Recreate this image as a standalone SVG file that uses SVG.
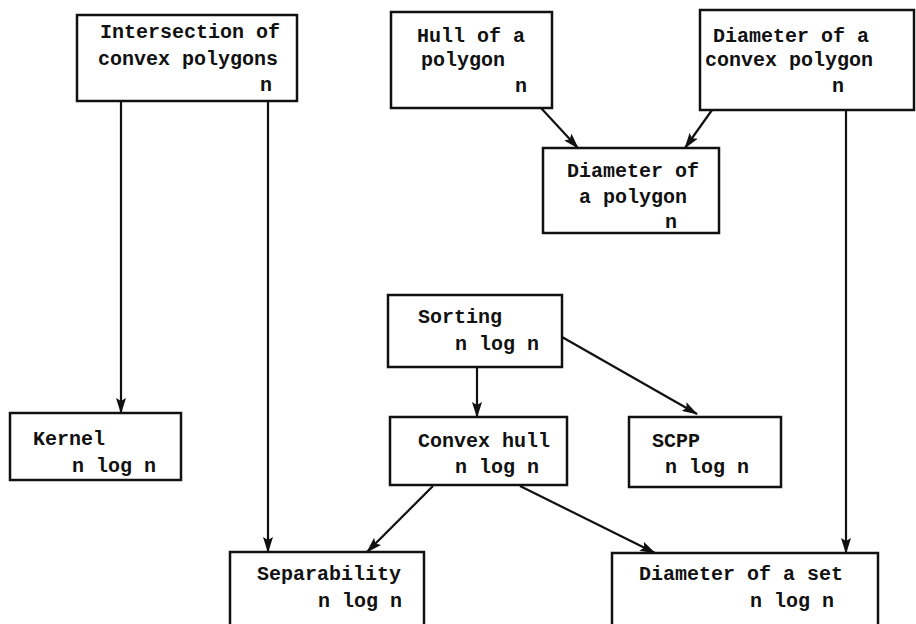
<svg xmlns="http://www.w3.org/2000/svg" width="916" height="624" viewBox="0 0 916 624">
<style>
.box{fill:#fff;stroke:#111;stroke-width:2.5}
.t{font-family:"Liberation Mono","DejaVu Sans Mono",monospace;font-size:20px;font-weight:bold;fill:#111}
.c{stroke:#111;stroke-width:2.2;fill:none;marker-end:url(#ah)}
</style>
<defs>
<marker id="ah" viewBox="0 0 16 10" refX="15" refY="5" markerWidth="16" markerHeight="10" markerUnits="userSpaceOnUse" orient="auto">
<path d="M0,0 L16,5 L0,10 L3,5 Z" fill="#111"/>
</marker>
</defs>
<rect width="916" height="624" fill="#fff"/>
<g id="connectors">
<line class="c" x1="121" y1="101" x2="121" y2="413"/>
<line class="c" x1="268" y1="101" x2="268" y2="552"/>
<line class="c" x1="541" y1="108" x2="578" y2="148"/>
<line class="c" x1="712" y1="110" x2="685" y2="148"/>
<line class="c" x1="846" y1="110" x2="846" y2="553"/>
<line class="c" x1="477" y1="367" x2="477" y2="417"/>
<line class="c" x1="562" y1="337" x2="697" y2="414"/>
<line class="c" x1="433" y1="486" x2="367" y2="552"/>
<line class="c" x1="520" y1="486" x2="655" y2="553"/>
</g>
<g id="intersection">
<rect class="box" x="77" y="15" width="220" height="86"/>
<text class="t" x="100" y="38">Intersection of</text>
<text class="t" x="98" y="65">convex polygons</text>
<text class="t" x="260" y="91">n</text>
</g>
<g id="hull">
<rect class="box" x="391" y="12" width="161" height="96"/>
<text class="t" x="417" y="42">Hull of a</text>
<text class="t" x="421" y="66">polygon</text>
<text class="t" x="515" y="92">n</text>
</g>
<g id="diam-convex">
<rect class="box" x="700" y="10" width="214" height="100"/>
<text class="t" x="713" y="42">Diameter of a</text>
<text class="t" x="705" y="66">convex polygon</text>
<text class="t" x="832" y="92">n</text>
</g>
<g id="diam-polygon">
<rect class="box" x="543" y="148" width="176" height="85"/>
<text class="t" x="567" y="177">Diameter of</text>
<text class="t" x="579" y="203">a polygon</text>
<text class="t" x="665" y="228">n</text>
</g>
<g id="sorting">
<rect class="box" x="388" y="295" width="174" height="72"/>
<text class="t" x="418" y="323">Sorting</text>
<text class="t" x="455" y="350">n log n</text>
</g>
<g id="convex-hull">
<rect class="box" x="390" y="417" width="177" height="68"/>
<text class="t" x="418" y="447">Convex hull</text>
<text class="t" x="455" y="473">n log n</text>
</g>
<g id="scpp">
<rect class="box" x="629" y="417" width="152" height="70"/>
<text class="t" x="652" y="447">SCPP</text>
<text class="t" x="665" y="473">n log n</text>
</g>
<g id="kernel">
<rect class="box" x="10" y="413" width="171" height="67"/>
<text class="t" x="33" y="445">Kernel</text>
<text class="t" x="72" y="472">n log n</text>
</g>
<g id="separability">
<rect class="box" x="230" y="552" width="194" height="80"/>
<text class="t" x="257" y="580">Separability</text>
<text class="t" x="318" y="607">n log n</text>
</g>
<g id="diam-set">
<rect class="box" x="612" y="553" width="266" height="80"/>
<text class="t" x="639" y="580">Diameter of a set</text>
<text class="t" x="750" y="607">n log n</text>
</g>
</svg>
